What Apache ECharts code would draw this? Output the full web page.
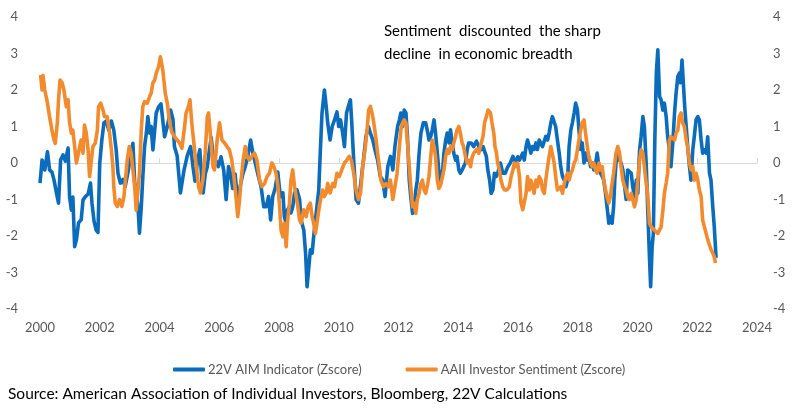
<!DOCTYPE html>
<html>
<head>
<meta charset="utf-8">
<script src="https://cdn.jsdelivr.net/npm/echarts@6/dist/echarts.min.js"></script>
<style>
  html, body { margin: 0; padding: 0; background: #fff; }
  #chart { width: 802px; height: 416px; }
</style>
</head>
<body>
<div id="chart"></div>
<script>
// 22V AIM Indicator (Zscore)
var aimYears = [
  2000.00,2000.07,2000.16,2000.25,2000.32,2000.40,2000.47,2000.55,2000.62,2000.69,
  2000.77,2000.85,2000.94,2000.99,2001.05,2001.10,2001.16,2001.22,2001.29,2001.38,
  2001.44,2001.52,2001.61,2001.69,2001.74,2001.81,2001.88,2001.94,2002.00,2002.07,
  2002.14,2002.22,2002.30,2002.39,2002.47,2002.55,2002.61,2002.69,2002.78,2002.85,
  2002.94,2003.03,2003.11,2003.17,2003.22,2003.28,2003.33,2003.39,2003.44,2003.50,
  2003.56,2003.61,2003.67,2003.72,2003.78,2003.84,2003.89,2003.97,2004.05,2004.17,
  2004.26,2004.37,2004.45,2004.50,2004.59,2004.70,2004.82,2004.93,2005.04,2005.12,
  2005.19,2005.28,2005.35,2005.42,2005.46,2005.53,2005.60,2005.67,2005.73,2005.82,
  2005.90,2005.97,2006.06,2006.15,2006.23,2006.31,2006.38,2006.45,2006.53,2006.62,
  2006.71,2006.79,2006.87,2006.96,2007.05,2007.12,2007.18,2007.29,2007.40,2007.49,
  2007.57,2007.65,2007.72,2007.79,2007.87,2007.96,2008.02,2008.07,2008.13,2008.18,
  2008.24,2008.29,2008.35,2008.40,2008.46,2008.52,2008.60,2008.69,2008.74,2008.83,
  2008.89,2008.94,2009.00,2009.05,2009.11,2009.16,2009.22,2009.27,2009.33,2009.39,
  2009.44,2009.52,2009.58,2009.63,2009.71,2009.78,2009.86,2009.94,2010.00,2010.06,
  2010.13,2010.19,2010.26,2010.32,2010.39,2010.43,2010.50,2010.58,2010.66,2010.75,
  2010.84,2010.91,2010.99,2011.06,2011.14,2011.21,2011.30,2011.39,2011.47,2011.55,
  2011.64,2011.73,2011.81,2011.88,2011.97,2012.03,2012.08,2012.14,2012.19,2012.25,
  2012.30,2012.36,2012.41,2012.47,2012.52,2012.58,2012.63,2012.69,2012.75,2012.83,
  2012.91,2012.96,2013.02,2013.08,2013.13,2013.19,2013.24,2013.30,2013.35,2013.41,
  2013.47,2013.52,2013.58,2013.63,2013.69,2013.74,2013.80,2013.85,2013.91,2013.96,
  2014.02,2014.07,2014.13,2014.18,2014.24,2014.30,2014.35,2014.43,2014.52,2014.61,
  2014.69,2014.77,2014.83,2014.94,2014.99,2015.05,2015.10,2015.16,2015.21,2015.27,
  2015.32,2015.41,2015.49,2015.57,2015.66,2015.74,2015.83,2015.91,2015.99,2016.05,
  2016.10,2016.16,2016.21,2016.27,2016.32,2016.38,2016.43,2016.49,2016.54,2016.60,
  2016.65,2016.71,2016.77,2016.82,2016.88,2016.93,2016.99,2017.04,2017.10,2017.15,
  2017.21,2017.26,2017.32,2017.38,2017.43,2017.49,2017.55,2017.60,2017.66,2017.71,
  2017.77,2017.82,2017.88,2017.93,2017.99,2018.04,2018.10,2018.15,2018.21,2018.26,
  2018.32,2018.37,2018.43,2018.48,2018.54,2018.60,2018.65,2018.71,2018.76,2018.82,
  2018.87,2018.93,2018.98,2019.04,2019.09,2019.15,2019.20,2019.24,2019.28,2019.34,
  2019.40,2019.45,2019.51,2019.57,2019.62,2019.67,2019.73,2019.79,2019.84,2019.90,
  2019.96,2020.01,2020.07,2020.12,2020.18,2020.23,2020.29,2020.34,2020.40,2020.44,
  2020.49,2020.53,2020.58,2020.63,2020.68,2020.74,2020.79,2020.85,2020.90,2020.96,
  2021.01,2021.07,2021.12,2021.18,2021.24,2021.29,2021.35,2021.40,2021.44,2021.49,
  2021.54,2021.58,2021.63,2021.68,2021.74,2021.79,2021.85,2021.90,2021.96,2022.02,
  2022.07,2022.13,2022.18,2022.24,2022.30,2022.35,2022.41,2022.46,2022.52,2022.57,
  2022.63
];
var aimValues = [
  -0.55,0.08,-0.19,0.31,-0.19,-0.25,-0.47,-0.82,-1.10,0.08,
  0.22,0.05,0.41,-0.93,-1.29,-0.93,-2.29,-2.10,-1.64,-1.55,
  -1.01,-0.92,-0.85,-0.55,-1.10,-1.60,-1.84,-1.90,0.00,0.63,
  1.10,1.15,0.90,1.15,0.90,0.36,-0.28,-0.55,-0.45,-0.65,
  -0.28,0.17,0.54,-0.55,-0.82,-1.20,-1.92,-1.20,-0.40,0.45,
  0.82,1.27,0.82,1.00,0.36,0.90,1.37,1.54,1.62,0.72,
  1.00,1.45,1.20,0.45,0.20,-0.82,-0.20,0.20,0.45,-0.10,
  -0.50,0.10,0.36,-0.50,-0.82,-0.30,-0.10,0.36,0.70,0.00,
  0.05,-0.10,0.17,-0.20,-1.00,-0.10,-0.30,-0.70,-0.30,-1.05,
  -0.60,-0.30,-0.10,0.20,0.63,0.30,0.30,-0.30,-0.65,-1.20,
  -1.20,-0.92,-1.56,-0.92,-0.70,-0.25,-0.74,-0.92,-0.82,-1.47,
  -1.65,-1.28,-1.20,-1.37,-1.20,-0.82,-0.73,-1.00,-1.56,-1.84,
  -2.47,-3.39,-3.35,-2.38,-2.47,-2.02,-1.56,-1.56,-0.74,0.45,
  1.37,2.00,1.55,1.10,0.63,1.00,1.18,1.40,1.00,1.18,
  0.82,0.45,1.37,1.55,1.73,1.18,0.08,-1.00,-1.10,-0.46,
  0.18,0.73,1.00,0.82,0.63,0.37,0.08,-0.37,-0.46,-0.92,
  -0.10,0.18,-0.19,0.45,1.00,1.18,1.37,1.00,1.45,1.37,
  0.72,-0.47,-0.92,-1.38,-1.28,-0.74,-0.47,0.27,0.82,1.10,
  1.10,0.91,0.63,0.73,0.91,1.18,0.82,0.27,-0.20,-0.55,
  -0.30,0.27,0.63,0.82,0.55,0.91,0.55,0.27,0.08,0.18,
  -0.19,-0.28,-0.19,-0.10,0.00,0.37,0.55,0.55,0.45,0.60,
  0.45,0.37,0.45,0.18,-0.19,-0.47,-0.83,-0.74,-0.28,-0.37,
  -0.28,0.00,-0.28,-0.28,-0.10,0.00,0.18,0.00,0.17,0.08,
  0.17,0.27,0.08,0.45,0.63,0.45,0.27,0.45,0.37,0.55,
  0.37,0.63,0.63,0.45,0.45,0.73,0.63,0.82,1.10,1.27,
  1.27,1.00,0.63,0.27,-0.10,-0.37,-0.47,-0.65,-0.47,0.45,
  0.91,1.10,1.37,1.64,1.45,0.91,0.37,0.55,0.00,0.27,
  0.08,0.17,-0.10,0.00,-0.19,0.00,0.27,-0.10,-0.28,-0.37,
  -0.47,-0.83,-1.20,-1.65,-1.47,-1.65,-1.20,-0.47,0.00,0.36,
  0.08,0.00,-0.19,-0.65,-1.00,-0.19,-0.19,-0.28,-0.65,-0.92,
  -0.47,-0.83,0.36,0.72,1.27,1.00,0.00,-1.20,-2.57,-3.39,
  -2.30,-1.93,0.63,2.46,3.10,1.82,1.73,1.45,1.64,1.27,
  0.72,0.36,-0.10,0.54,1.37,1.90,2.37,2.46,2.20,2.82,
  2.82,1.55,1.00,0.45,-0.10,-0.47,0.36,0.72,1.18,1.27,
  1.18,0.63,0.27,0.36,0.27,0.72,-0.28,-0.47,-1.20,-1.75,
  -2.60
];

// AAII Investor Sentiment (Zscore)
var aaiiYears = [
  2000.02,2000.07,2000.10,2000.16,2000.25,2000.32,2000.40,2000.47,2000.51,2000.58,
  2000.62,2000.67,2000.74,2000.80,2000.88,2000.94,2000.99,2001.05,2001.10,2001.16,
  2001.22,2001.27,2001.33,2001.38,2001.44,2001.49,2001.55,2001.61,2001.66,2001.72,
  2001.77,2001.85,2001.92,2001.96,2002.03,2002.11,2002.16,2002.25,2002.33,2002.39,
  2002.44,2002.47,2002.52,2002.59,2002.66,2002.74,2002.81,2002.87,2002.92,2002.99,
  2003.05,2003.11,2003.17,2003.22,2003.28,2003.33,2003.39,2003.44,2003.50,2003.59,
  2003.67,2003.72,2003.78,2003.84,2003.89,2003.97,2004.03,2004.11,2004.19,2004.26,
  2004.34,2004.41,2004.50,2004.59,2004.67,2004.75,2004.84,2004.89,2004.97,2005.02,
  2005.08,2005.15,2005.23,2005.31,2005.37,2005.45,2005.53,2005.60,2005.64,2005.71,
  2005.79,2005.84,2005.93,2006.01,2006.09,2006.18,2006.26,2006.34,2006.42,2006.49,
  2006.57,2006.62,2006.68,2006.73,2006.80,2006.87,2006.93,2007.01,2007.09,2007.18,
  2007.26,2007.35,2007.43,2007.52,2007.60,2007.68,2007.76,2007.83,2007.90,2007.96,
  2008.02,2008.07,2008.13,2008.18,2008.24,2008.29,2008.35,2008.40,2008.46,2008.52,
  2008.57,2008.63,2008.69,2008.74,2008.83,2008.91,2008.98,2009.05,2009.11,2009.16,
  2009.22,2009.27,2009.35,2009.41,2009.46,2009.52,2009.58,2009.63,2009.71,2009.80,
  2009.86,2009.94,2010.02,2010.10,2010.19,2010.27,2010.35,2010.42,2010.50,2010.58,
  2010.66,2010.73,2010.80,2010.88,2010.95,2011.00,2011.06,2011.14,2011.19,2011.25,
  2011.30,2011.36,2011.41,2011.50,2011.58,2011.66,2011.73,2011.81,2011.88,2011.95,
  2012.03,2012.08,2012.14,2012.19,2012.25,2012.30,2012.36,2012.41,2012.47,2012.52,
  2012.58,2012.63,2012.69,2012.75,2012.80,2012.86,2012.91,2012.96,2013.02,2013.08,
  2013.13,2013.19,2013.24,2013.30,2013.35,2013.41,2013.47,2013.52,2013.58,2013.63,
  2013.69,2013.74,2013.80,2013.85,2013.91,2013.96,2014.02,2014.07,2014.13,2014.18,
  2014.24,2014.30,2014.35,2014.41,2014.47,2014.52,2014.61,2014.69,2014.77,2014.83,
  2014.88,2014.94,2015.00,2015.08,2015.13,2015.19,2015.23,2015.28,2015.32,2015.38,
  2015.43,2015.49,2015.55,2015.63,2015.71,2015.77,2015.83,2015.88,2015.94,2015.99,
  2016.05,2016.10,2016.16,2016.21,2016.27,2016.32,2016.38,2016.43,2016.49,2016.54,
  2016.60,2016.65,2016.71,2016.77,2016.82,2016.88,2016.93,2016.99,2017.04,2017.10,
  2017.15,2017.21,2017.26,2017.32,2017.38,2017.43,2017.49,2017.55,2017.60,2017.66,
  2017.71,2017.77,2017.82,2017.88,2017.93,2017.99,2018.04,2018.10,2018.15,2018.21,
  2018.26,2018.32,2018.37,2018.43,2018.48,2018.54,2018.60,2018.65,2018.71,2018.76,
  2018.82,2018.87,2018.93,2018.98,2019.04,2019.09,2019.15,2019.20,2019.28,2019.34,
  2019.40,2019.45,2019.51,2019.57,2019.62,2019.67,2019.73,2019.79,2019.84,2019.90,
  2019.96,2020.01,2020.07,2020.12,2020.18,2020.23,2020.29,2020.34,2020.40,2020.46,
  2020.51,2020.57,2020.63,2020.68,2020.74,2020.79,2020.85,2020.90,2020.96,2021.01,
  2021.07,2021.12,2021.18,2021.24,2021.29,2021.35,2021.40,2021.46,2021.51,2021.57,
  2021.63,2021.68,2021.74,2021.79,2021.85,2021.90,2021.96,2022.02,2022.07,2022.13,
  2022.18,2022.24,2022.30,2022.35,2022.41,2022.46,2022.52,2022.57,2022.61
];
var aaiiValues = [
  2.41,2.00,2.40,2.00,1.64,1.27,0.90,0.63,0.54,1.10,
  1.73,2.27,2.20,2.00,1.54,1.73,1.10,0.82,0.90,0.45,
  0.00,0.00,0.45,0.63,0.27,1.04,0.82,0.36,-0.37,0.08,
  0.45,0.54,0.90,1.54,1.64,1.45,1.27,1.27,0.82,0.36,
  -0.10,-0.65,-1.10,-1.19,-1.00,-1.19,-0.92,-0.37,0.08,0.45,
  0.27,-0.19,-0.65,-1.29,-1.33,-0.28,0.90,1.54,1.68,1.64,
  1.82,1.91,2.20,2.27,2.46,2.64,2.91,2.55,1.92,1.64,
  1.10,0.85,0.72,0.63,0.55,0.40,1.00,1.37,1.55,1.73,
  1.10,0.55,-0.10,-0.65,-0.82,-0.47,0.27,1.27,1.37,0.72,
  -0.10,-0.19,0.63,1.10,0.63,0.55,0.45,0.36,0.08,-0.37,
  -1.01,-1.47,-1.01,-0.47,0.08,0.45,0.18,0.08,0.18,0.27,
  0.08,-0.47,-0.65,-0.56,-0.37,-0.28,0.00,-0.10,-0.28,-0.60,
  -1.19,-1.84,-2.02,-1.65,-2.29,-1.56,-1.10,-0.47,-0.19,-0.65,
  -0.65,-1.19,-1.56,-1.65,-1.28,-1.47,-1.19,-1.10,-1.47,-1.65,
  -1.93,-1.65,-1.19,-0.92,-0.74,-0.92,-0.82,-0.56,-0.82,-0.56,
  -0.65,-0.28,-0.37,-0.19,0.00,0.08,0.18,0.08,-0.28,-0.74,
  -1.00,-0.82,-0.10,0.37,0.91,1.45,1.55,1.27,1.00,0.63,
  0.27,-0.10,-0.47,-0.65,-0.56,-0.65,-0.47,-1.00,-0.65,-0.30,
  0.45,0.91,1.10,1.18,1.10,0.55,-0.10,-0.65,-1.20,-1.10,
  -1.38,-1.00,-0.83,-0.56,-0.47,-0.74,-0.83,-0.65,-0.37,0.18,
  0.63,0.45,0.18,-0.47,-0.70,-0.60,-0.65,-0.19,0.18,0.37,
  0.27,0.45,0.37,0.55,0.73,0.91,1.00,0.82,0.55,0.45,
  0.18,0.00,0.08,-0.10,0.18,0.27,0.37,0.27,0.55,0.73,
  1.10,1.27,1.45,1.37,1.10,0.82,0.45,0.27,0.00,-0.19,
  -0.47,-0.65,-0.74,-0.74,-0.65,-0.37,-0.19,0.00,-0.10,0.00,
  -0.37,-1.10,-1.28,-1.28,-0.83,-0.37,-0.74,-0.47,-0.65,-0.83,
  -0.47,-0.65,-0.37,-0.47,-0.74,-0.83,-0.47,-0.10,0.17,0.45,
  0.45,0.00,-0.37,-0.74,-0.74,-0.65,-0.83,-0.56,-0.37,-0.28,
  -0.47,-0.28,-0.19,0.00,0.08,0.37,0.63,0.91,1.10,1.18,
  0.82,0.45,0.17,0.00,-0.10,0.00,-0.19,-0.28,0.00,-0.19,
  -0.10,-0.47,-0.74,-0.92,-1.10,-0.92,-0.56,-0.28,0.27,0.45,
  0.27,-0.10,-0.47,-0.65,-0.74,-0.92,-1.00,-0.83,-1.00,-1.20,
  -1.00,-0.47,0.08,0.36,0.27,-0.10,-0.55,-0.83,-1.65,-1.75,
  -1.75,-1.84,-1.80,-1.93,-1.93,-1.75,-1.29,-0.83,-0.55,-0.28,
  0.63,0.72,0.72,0.63,0.82,0.90,1.27,1.37,1.10,1.00,
  0.63,0.45,0.00,-0.19,-0.10,-0.47,-0.28,-0.47,-0.74,-0.92,
  -1.56,-1.75,-1.75,-2.10,-2.10,-2.37,-2.47,-2.57,-2.74
];

var seriesNames = ['22V AIM Indicator (Zscore)', 'AAII Investor Sentiment (Zscore)'];
var noteLines = ['Sentiment  discounted  the sharp', 'decline  in economic breadth'];
var sourceText = 'Source: American Association of Individual Investors, Bloomberg, 22V Calculations';

function pairs(xs, ys) {
    return xs.map(function (x, i) { return [x, ys[i]]; });
}

var labelColor = '#595959';
var font = 'Lato, "Noto Sans", sans-serif';

var chart = echarts.init(document.getElementById('chart'));
var option = {
    animation: false,
    textStyle: { fontFamily: font },
    grid: { left: 40, right: 45, top: 17, bottom: 107 },
    legend: {
        left: 168,
        top: 358,
        itemGap: 44,
        itemWidth: 32,
        itemHeight: 4,
        icon: 'roundRect',
        textStyle: { color: labelColor, fontSize: 13, fontFamily: font, padding: [0, 0, 0, -2] },
        data: seriesNames
    },
    xAxis: [{
        type: 'value',
        min: 2000,
        max: 2024,
        interval: 2,
        axisLine: { show: false, onZero: false },
        axisTick: { show: false },
        splitLine: { show: false },
        axisLabel: {
            color: labelColor, fontSize: 13, margin: 12, fontFamily: font,
            formatter: function (v) { return String(v); }
        }
    }, {
        type: 'value',
        min: 2000,
        max: 2024,
        interval: 2,
        axisLine: { show: true, onZero: true, lineStyle: { color: '#d9d9d9', width: 1 } },
        axisTick: { show: true, length: 5, lineStyle: { color: '#d9d9d9' } },
        splitLine: { show: false },
        axisLabel: { show: false }
    }],
    yAxis: [{
        type: 'value',
        position: 'left',
        min: -4,
        max: 4,
        interval: 1,
        axisLine: { show: false },
        axisTick: { show: false },
        splitLine: { show: false },
        axisLabel: { color: labelColor, fontSize: 13, margin: 22, fontFamily: font }
    }, {
        type: 'value',
        position: 'right',
        min: -4,
        max: 4,
        interval: 1,
        axisLine: { show: false },
        axisTick: { show: false },
        splitLine: { show: false },
        axisLabel: { color: labelColor, fontSize: 13, margin: 16, fontFamily: font }
    }],
    series: [{
        name: seriesNames[0],
        type: 'line',
        data: pairs(aimYears, aimValues),
        showSymbol: false,
        symbol: 'none',
        color: '#0b6cbc',
        lineStyle: { width: 3.6, color: '#0b6cbc', join: 'round' }
    }, {
        name: seriesNames[1],
        type: 'line',
        data: pairs(aaiiYears, aaiiValues),
        showSymbol: false,
        symbol: 'none',
        color: '#f28a2e',
        lineStyle: { width: 3.6, color: '#f28a2e', join: 'round' }
    }],
    graphic: [{
        type: 'text',
        left: 384,
        top: 20,
        style: {
            text: noteLines.join('\n'),
            fill: '#000',
            font: '15px ' + font,
            lineHeight: 23
        }
    }, {
        type: 'text',
        left: 8,
        top: 386,
        style: {
            text: sourceText,
            fill: '#000',
            font: '15.5px ' + font
        }
    }]
};
chart.setOption(option);
</script>
</body>
</html>
